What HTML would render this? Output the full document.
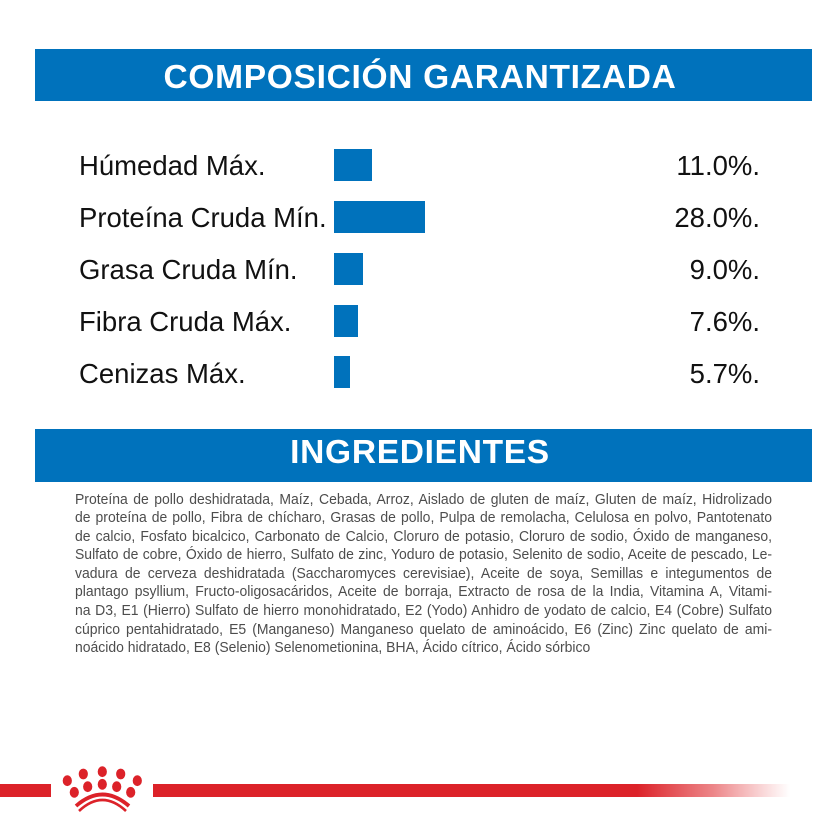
<!DOCTYPE html>
<html>
<head>
<meta charset="utf-8">
<style>
  html, body { margin:0; padding:0; background:#ffffff; }
  body { width:840px; height:837px; position:relative; overflow:hidden; font-family:"Liberation Sans", Arial, sans-serif; }
  .banner { position:absolute; left:35px; width:777px; background:#0072bc; }
  .btitle { position:absolute; left:0; width:840px; text-align:center; color:#fff; font-weight:bold; font-size:33.5px; line-height:40px; letter-spacing:0.7px; white-space:nowrap; }
  .bar { position:absolute; left:334px; height:32px; background:#0072bc; }
  .lbl { position:absolute; left:79px; font-size:27.5px; line-height:32px; color:#111; white-space:nowrap; }
  .val { position:absolute; right:80px; font-size:27.5px; line-height:32px; color:#111; white-space:nowrap; text-align:right; }
  .ing { position:absolute; left:75px; top:490.5px; width:749px; transform:scaleX(0.9306); transform-origin:0 0; font-size:15px; line-height:18.6px; color:#4d4d4d; }
  .ing div { text-align:justify; text-align-last:justify; height:18.6px; }
  .ing div.last { text-align:left; text-align-last:left; }
</style>
</head>
<body>
  <div class="banner" style="top:49px;height:52px;"></div>
  <div class="btitle" style="top:58.4px;">COMPOSICIÓN GARANTIZADA</div>

  <div class="lbl" style="top:149.5px;">Húmedad Máx.</div>
  <div class="lbl" style="top:201.5px;">Proteína Cruda Mín.</div>
  <div class="lbl" style="top:253.5px;">Grasa Cruda Mín.</div>
  <div class="lbl" style="top:305.5px;">Fibra Cruda Máx.</div>
  <div class="lbl" style="top:357.5px;">Cenizas Máx.</div>

  <div class="bar" style="top:149px;width:38px;"></div>
  <div class="bar" style="top:201px;width:91px;"></div>
  <div class="bar" style="top:253px;width:29px;"></div>
  <div class="bar" style="top:305px;width:24px;"></div>
  <div class="bar" style="top:356px;width:16px;"></div>

  <div class="val" style="top:149.5px;">11.0%.</div>
  <div class="val" style="top:201.5px;">28.0%.</div>
  <div class="val" style="top:253.5px;">9.0%.</div>
  <div class="val" style="top:305.5px;">7.6%.</div>
  <div class="val" style="top:357.5px;">5.7%.</div>

  <div class="banner" style="top:429px;height:53px;"></div>
  <div class="btitle" style="top:433.4px;">INGREDIENTES</div>

  <div class="ing">
    <div>Proteína de pollo deshidratada, Maíz, Cebada, Arroz, Aislado de gluten de maíz, Gluten de maíz, Hidrolizado</div>
    <div>de proteína de pollo, Fibra de chícharo, Grasas de pollo, Pulpa de remolacha, Celulosa en polvo, Pantotenato</div>
    <div>de calcio, Fosfato bicalcico, Carbonato de Calcio, Cloruro de potasio, Cloruro de sodio, Óxido de manganeso,</div>
    <div>Sulfato de cobre, Óxido de hierro, Sulfato de zinc, Yoduro de potasio, Selenito de sodio, Aceite de pescado, Le-</div>
    <div>vadura de cerveza deshidratada (Saccharomyces cerevisiae), Aceite de soya, Semillas e integumentos de</div>
    <div>plantago psyllium, Fructo-oligosacáridos, Aceite de borraja, Extracto de rosa de la India, Vitamina A, Vitami-</div>
    <div>na D3, E1 (Hierro) Sulfato de hierro monohidratado, E2 (Yodo) Anhidro de yodato de calcio, E4 (Cobre) Sulfato</div>
    <div>cúprico pentahidratado, E5 (Manganeso) Manganeso quelato de aminoácido, E6 (Zinc) Zinc quelato de ami-</div>
    <div class="last">noácido hidratado, E8 (Selenio) Selenometionina, BHA, Ácido cítrico, Ácido sórbico</div>
  </div>

  <svg width="840" height="837" style="position:absolute;left:0;top:0;" xmlns="http://www.w3.org/2000/svg">
    <defs>
      <linearGradient id="fade" x1="153" y1="0" x2="790" y2="0" gradientUnits="userSpaceOnUse">
        <stop offset="0" stop-color="#dc2229" stop-opacity="1"/>
        <stop offset="0.76" stop-color="#dc2229" stop-opacity="1"/>
        <stop offset="0.88" stop-color="#e0353a" stop-opacity="0.6"/>
        <stop offset="1" stop-color="#e84a4f" stop-opacity="0"/>
      </linearGradient>
    </defs>
    <rect x="0" y="784" width="51" height="13" fill="#dc2229"/>
    <rect x="153" y="784" width="637" height="13" fill="url(#fade)"/>
    <g fill="#dc2229">
      <ellipse cx="67.3" cy="780.7" rx="4.6" ry="5.4"/>
      <ellipse cx="83.3" cy="774" rx="4.6" ry="5.4"/>
      <ellipse cx="102.3" cy="771.7" rx="4.6" ry="5.4"/>
      <ellipse cx="120.7" cy="774" rx="4.6" ry="5.4"/>
      <ellipse cx="137.3" cy="780.7" rx="4.6" ry="5.4"/>
      <ellipse cx="74.3" cy="792.3" rx="4.6" ry="5.4"/>
      <ellipse cx="87.7" cy="786.7" rx="4.6" ry="5.4"/>
      <ellipse cx="102.3" cy="784.3" rx="4.6" ry="5.4"/>
      <ellipse cx="116.7" cy="786.7" rx="4.6" ry="5.4"/>
      <ellipse cx="130.7" cy="792.3" rx="4.6" ry="5.4"/>
    </g>
    <path d="M76 806 Q102.3 783 129 806" fill="none" stroke="#dc2229" stroke-width="3.8"/>
    <path d="M79 811 Q102.3 789 126 811" fill="none" stroke="#dc2229" stroke-width="2.6"/>
  </svg>
</body>
</html>
